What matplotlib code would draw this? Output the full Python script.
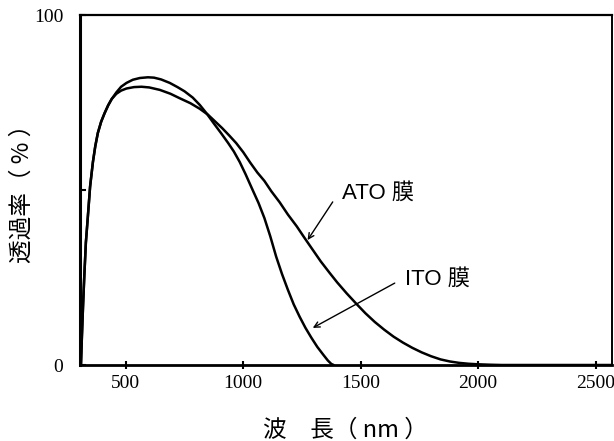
import matplotlib
matplotlib.use("Agg")
from matplotlib import pyplot as plt

# transmittance curves (wavelength nm, transmittance %)
ito_wl = [309, 313, 318, 323, 330, 338, 348, 360, 370, 381, 395, 410, 425, 440,
          460, 480, 503, 530, 560, 594, 620, 650, 687, 720, 750, 785, 815, 845,
          875, 905, 935, 960, 985, 1010, 1040, 1065, 1090, 1115, 1140, 1165,
          1190, 1215, 1240, 1265, 1290, 1315, 1340, 1360, 1375, 1385]
ito_t = [0, 8, 17, 25, 35, 42, 51, 58, 62.5, 66.3, 69.5, 72, 74.2, 76,
         77.9, 79.5, 80.6, 81.5, 82, 82.2, 82.1, 81.6, 80.6, 79.4, 78.2, 76.4, 74.3, 71.8,
         69, 66.3, 63.5, 61, 58, 54.5, 50, 46.3, 42, 36.8, 31, 26,
         21.5, 17.3, 13.8, 10.6, 7.8, 5.2, 3, 1.3, 0.3, 0]

ato_wl = [309, 313, 318, 323, 330, 338, 348, 360, 370, 381, 395, 410, 425, 440,
          460, 480, 503, 535, 567, 600, 645, 690, 730, 775, 815, 850, 880, 910,
          940, 970, 1000, 1030, 1060, 1090, 1120, 1155, 1190, 1228, 1260, 1296,
          1330, 1368, 1400, 1440, 1480, 1520, 1560, 1600, 1640, 1680, 1720,
          1760, 1800, 1840, 1880, 1920, 1960, 2000, 2050, 2100, 2570]
ato_t = [0, 8, 17, 25, 35, 42, 51, 58, 62.5, 66.3, 69.5, 72, 74.2, 76,
         77.5, 78.4, 79, 79.4, 79.5, 79.3, 78.6, 77.5, 76.2, 74.8, 73.2, 71.5, 69.6, 67.7,
         65.6, 63.4, 60.8, 57.8, 55, 52.6, 49.6, 46.5, 43, 39.6, 36.4, 32.9,
         29.6, 26.3, 23.6, 20.5, 17.6, 14.8, 12.3, 10.1, 8.1, 6.4, 4.9,
         3.6, 2.5, 1.6, 1.0, 0.6, 0.35, 0.2, 0.08, 0, 0]

x_ticks = [500, 1000, 1500, 2000, 2500]
y_ticks = [0, 50, 100]
y_tick_labels = ["0", "", "100"]

lat_cjk = ["Liberation Sans", "Noto Sans CJK JP"]
cjk = ["Noto Sans CJK JP", "DejaVu Sans"]

fig = plt.figure(figsize=(6.14, 4.41), dpi=100)
ax = fig.add_axes([80 / 614, 76 / 441, 532 / 614, 350 / 441])

for wl, t in [(ito_wl, ito_t), (ato_wl, ato_t)]:
    ax.plot(wl, t, color="black", lw=1.8, solid_capstyle="round",
            solid_joinstyle="round")

ax.set_xlim(305, 2570)
ax.set_ylim(0, 100)

ax.set_xticks(x_ticks)
ax.set_xticklabels([str(v) for v in x_ticks], family="Liberation Serif", fontsize=14)
ax.set_yticks(y_ticks)
ax.set_yticklabels(y_tick_labels, family="Liberation Serif", fontsize=14)
ax.tick_params(axis="x", direction="inout", length=6, width=1.5, pad=4)
ax.tick_params(axis="y", direction="in", length=4, width=1.5, pad=12)

ax.spines["left"].set_linewidth(2.2)
ax.spines["bottom"].set_linewidth(2.0)
ax.spines["top"].set_linewidth(1.6)
ax.spines["right"].set_linewidth(1.4)

fig.text(345 / 614, 1 - 430 / 441, "波\u3000長（ nm ）", family=cjk, fontsize=17,
         ha="center", va="center")
fig.text(22 / 614, 1 - 188 / 441, "透過率（ % ）", family=cjk, fontsize=17,
         ha="center", va="center", rotation=90)

arrow = dict(arrowstyle="->", lw=1.0, color="black", shrinkA=0, shrinkB=0)

ax.text(1419, 49.1, "ATO 膜", family=lat_cjk, fontsize=16, ha="left", va="center")
ax.annotate("", xy=(1274, 35.7), xytext=(1381, 46.6), arrowprops=arrow)

ax.text(1687, 24.6, "ITO 膜", family=lat_cjk, fontsize=16, ha="left", va="center")
ax.annotate("", xy=(1296, 10.6), xytext=(1645, 23.4), arrowprops=arrow)

fig.savefig("out.png", dpi=100)
